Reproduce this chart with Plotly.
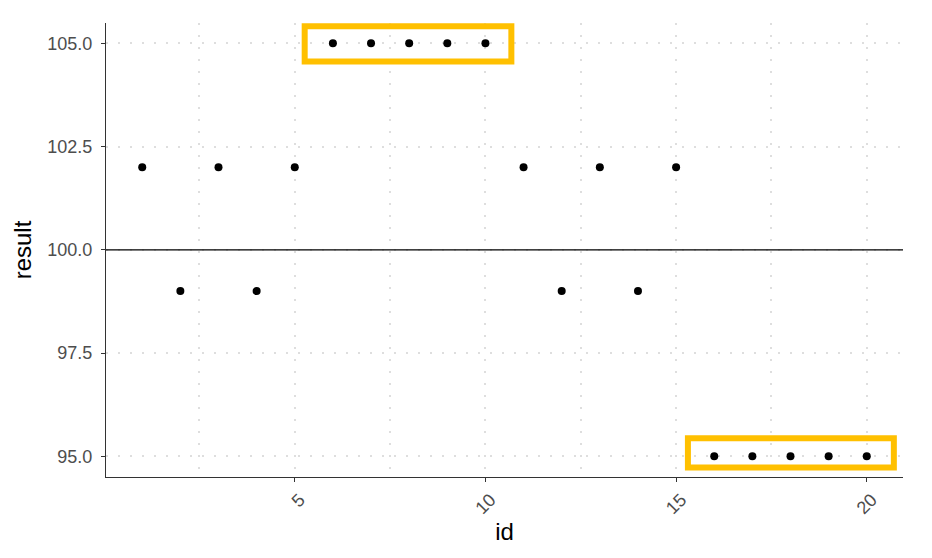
import plotly.graph_objects as go

ids = list(range(1, 21))
results = [102, 99, 102, 99, 102, 105, 105, 105, 105, 105,
           102, 99, 102, 99, 102, 95, 95, 95, 95, 95]
x_ticks = [5, 10, 15, 20]
y_ticks = [95.0, 97.5, 100.0, 102.5, 105.0]
y_ticklabels = ["95.0", "97.5", "100.0", "102.5", "105.0"]
reference_line = 100
boxes = [  # (x0, x1, y0, y1)
    (5.26, 10.68, 104.56, 105.41),
    (15.31, 20.71, 94.73, 95.44),
]

fig = go.Figure()
fig.add_trace(go.Scatter(
    x=ids, y=results, mode="markers",
    marker=dict(color="black", size=8),
    showlegend=False, hoverinfo="x+y",
))

fig.add_hline(y=reference_line, line=dict(color="black", width=1.2), layer="above")

for x0, x1, y0, y1 in boxes:
    fig.add_shape(type="rect", xref="x", yref="y", x0=x0, x1=x1, y0=y0, y1=y1,
                  line=dict(color="#FFC000", width=6), fillcolor="rgba(0,0,0,0)")

grid_color = "#DEDEDE"
grid_dash = "2px,10px"
fig.update_layout(
    width=924, height=550,
    margin=dict(l=98, r=29, t=15, b=81),
    plot_bgcolor="white", paper_bgcolor="white",
    font=dict(family="Liberation Sans, Arial, sans-serif"),
    xaxis=dict(
        range=[0.05, 20.95], tickvals=x_ticks, ticktext=[str(v) for v in x_ticks],
        tickangle=-45, ticks="outside", ticklen=4, tickcolor="#333333",
        tickfont=dict(size=18, color="#4D4D4D"), ticklabelshift=5,
        showline=True, linecolor="#333333", linewidth=1.3,
        showgrid=True, gridcolor=grid_color, griddash=grid_dash, gridwidth=2,
        zeroline=False,
        minor=dict(dtick=2.5, tick0=0, showgrid=True, gridcolor=grid_color,
                   griddash=grid_dash, gridwidth=2),
        title=dict(text="id", font=dict(size=24, color="black"), standoff=4),
    ),
    yaxis=dict(
        range=[94.5, 105.49], tickvals=y_ticks, ticktext=y_ticklabels,
        ticks="outside", ticklen=4, tickcolor="#333333",
        tickfont=dict(size=18, color="#4D4D4D"), ticklabelstandoff=5,
        showline=True, linecolor="#333333", linewidth=1.3,
        showgrid=True, gridcolor=grid_color, griddash=grid_dash, gridwidth=2,
        zeroline=False,
        title=dict(text="result", font=dict(size=24, color="black"), standoff=8),
    ),
)

fig.write_html("out.html")
